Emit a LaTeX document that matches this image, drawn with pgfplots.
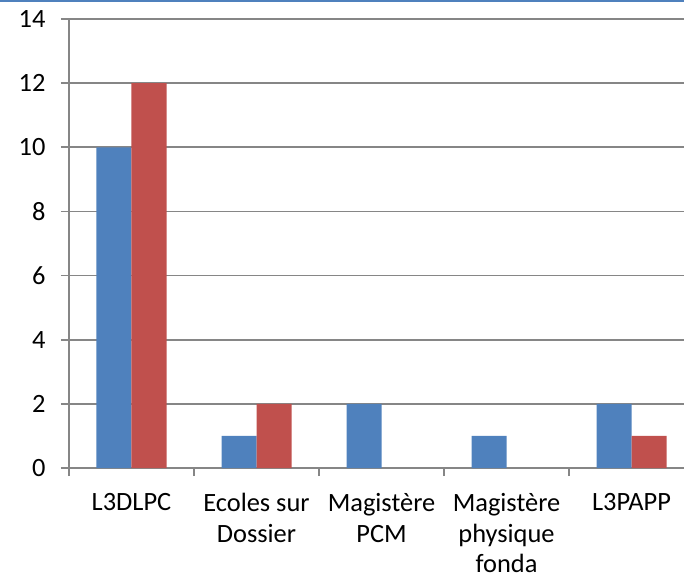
\documentclass[border=0pt]{standalone}
\usepackage{fontspec}
\setmainfont{Carlito}
\usepackage{pgfplots}
\pgfplotsset{compat=1.18}
\definecolor{barblue}{RGB}{79,129,189}
\definecolor{barred}{RGB}{192,80,77}
\definecolor{gridgray}{RGB}{134,134,134}
\begin{document}
\begin{tikzpicture}
\begin{axis}[
    name=ax,
    scale only axis,
    width=615bp, height=449bp,
    xmin=-0.5, xmax=4.42,
    ymin=0, ymax=14,
    axis x line*=bottom, axis y line*=left,
    axis line style={gridgray, line width=1.7bp},
    ybar=0pt, bar width=35bp,
    ytick={0,2,...,14},
    ymajorgrids,
    grid style={gridgray, line width=1.6bp},
    xtick={0,1,2,3,4},
    xticklabels={L3DLPC, Ecoles sur\\Dossier, Magistère\\PCM, Magistère\\physique\\fonda, L3PAPP},
    xtick style={draw=none},
    ytick style={gridgray, line width=1.6bp},
    tick align=outside,
    major tick length=8bp,
    extra x ticks={-0.5,0.5,1.5,2.5,3.5},
    extra x tick labels={},
    extra x tick style={xtick style={draw=gridgray, line width=1.6bp}, major tick length=8bp},
    /pgf/number format/assume math mode=true,
    tick label style={font=\fontsize{26.5}{30.5}\selectfont},
    xticklabel style={align=center, anchor=north, yshift=-14bp},
    yticklabel style={xshift=-12bp},
]
\addplot[fill=barblue, draw=none] coordinates {(0,10) (1,1) (2,2) (3,1) (4,2)};
\addplot[fill=barred, draw=none] coordinates {(0,12) (1,2) (4,1)};
\end{axis}
\pgfresetboundingbox
\path[use as bounding box] ([xshift=-69bp,yshift=-110bp]ax.south west) rectangle ([yshift=19bp]ax.north east);
\draw[barblue, line width=2bp] ([xshift=-69bp,yshift=18bp]ax.north west) -- ([yshift=18bp]ax.north east);
\end{tikzpicture}
\end{document}
